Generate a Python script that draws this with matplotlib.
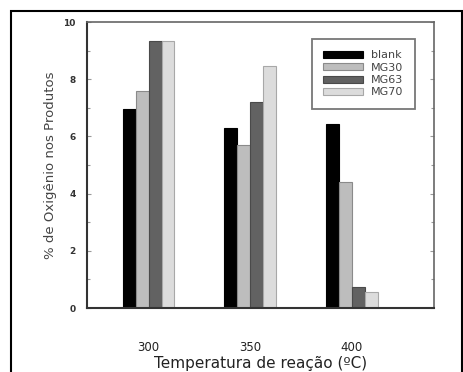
import matplotlib
matplotlib.use("Agg")
import matplotlib.pyplot as plt
from matplotlib.patches import Rectangle
from matplotlib.ticker import MultipleLocator
import numpy as np

categories = [300, 350, 400]
series_names = ["blank", "MG30", "MG63", "MG70"]
blank = [6.95, 6.3, 6.45]
mg30 = [7.6, 5.7, 4.42]
mg63 = [9.35, 7.2, 0.73]
mg70 = [9.35, 8.45, 0.56]
colors = ["#000000", "#bdbdbd", "#626262", "#dcdcdc"]
edges = ["#000000", "#8a8a8a", "#4a4a4a", "#a8a8a8"]

fig = plt.figure(figsize=(4.63, 3.72), dpi=100)
fig.patch.set_facecolor("white")
fig.add_artist(Rectangle((11/463, -0.05), (462-11)/463, 1 - 11/372 + 0.05,
                         transform=fig.transFigure, fill=False,
                         edgecolor="black", linewidth=1.5))

ax = fig.add_axes([87/463, 1 - 308/372, (434-87)/463, (308-22)/372])
bw = 6.35
data = [blank, mg30, mg63, mg70]
for i, (vals, c, e, name) in enumerate(zip(data, colors, edges, series_names)):
    xs = np.array(categories) + (i - 1.5) * bw
    ax.bar(xs, vals, width=bw, color=c, edgecolor=e, linewidth=0.8, label=name, zorder=2)

ax.set_xlim(269.7, 440.4)
ax.set_ylim(0, 10)
ax.set_xticks(categories)
ax.set_xticklabels([str(c) for c in categories], fontsize=8.5, color="#222222")
ax.tick_params(axis="x", length=0, pad=24)
ax.yaxis.set_major_locator(MultipleLocator(2))
ax.yaxis.set_minor_locator(MultipleLocator(1))
ax.tick_params(axis="y", which="both", direction="in", right=True, labelsize=6.5,
               labelcolor="#333333", color="#999999", length=3, width=0.8, pad=8)
ax.tick_params(axis="y", which="minor", length=2)
for lab in ax.get_yticklabels():
    lab.set_fontweight("bold")
for s in ["left", "bottom"]:
    ax.spines[s].set_linewidth(1.5)
    ax.spines[s].set_color("#333333")
for s in ["top", "right"]:
    ax.spines[s].set_linewidth(1.2)
    ax.spines[s].set_color("#666666")

ax.set_ylabel("% de Oxigênio nos Produtos", fontsize=9.5, color="#444444", labelpad=5)
ax.set_xlabel("Temperatura de reação (ºC)", fontsize=11, color="#222222", labelpad=1)

leg = ax.legend(loc="upper right", bbox_to_anchor=(0.96, 0.96), fontsize=8,
                frameon=True, fancybox=False, edgecolor="#555555",
                handlelength=3.6, handleheight=0.6, labelspacing=0.22,
                borderpad=1.0, handletextpad=0.7)
leg.get_frame().set_linewidth(1.3)
for t in leg.get_texts():
    t.set_color("#444444")

fig.savefig("out.png", dpi=100)
